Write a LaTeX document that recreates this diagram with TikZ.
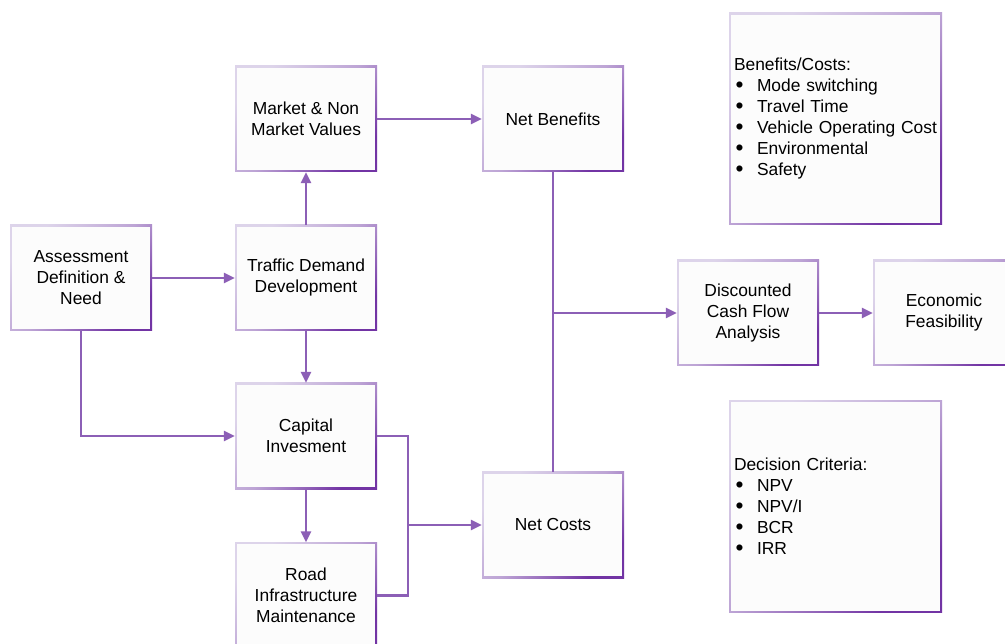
\documentclass[tikz,border=0pt]{standalone}
\usepackage{fontspec}
\setmainfont{Liberation Sans}
\usetikzlibrary{arrows.meta}
\definecolor{bordlight}{HTML}{DDD4EA}
\definecolor{borddark}{HTML}{7234A4}
\definecolor{boxfill}{HTML}{FCFCFC}
\definecolor{conn}{HTML}{8C5FB6}
\tikzset{
  box/.style={rectangle, minimum width=142pt, minimum height=106pt, inner sep=0pt,
    align=center, font=\fontsize{17.4}{21}\selectfont,
    path picture={
      \shade[top color=bordlight, bottom color=borddark, middle color=bordlight!70!borddark, shading angle=45]
        (path picture bounding box.south west) rectangle (path picture bounding box.north east);
      \fill[boxfill] ([shift={(1.6pt,1.6pt)}]path picture bounding box.south west)
        rectangle ([shift={(-1.6pt,-1.6pt)}]path picture bounding box.north east);
    }},
  bigbox/.style={box, minimum width=213pt, minimum height=212pt, text width=203pt,
    inner xsep=5pt, align=left},
  conline/.style={draw=conn, line width=2.8pt},
  arr/.style={conline, -{Triangle[length=11pt,width=10pt]}},
}
\newcommand{\bitem}[1]{\makebox[23pt][l]{\hspace{1.5pt}\smash{\raisebox{-0.5pt}{\scalebox{1.3}{\textbullet}}}}#1}
\begin{document}
\begin{tikzpicture}[x=1pt,y=-1pt]
\fill[white] (0,0) rectangle (1005,644);
\clip (0,0) rectangle (1005,644);
\node[box] (ass) at (81,278) {Assessment\\Definition \&\\Need};
\node[box] (tdd) at (306,278) {Traffic Demand\\Development};
\node[box] (mkt) at (306,119) {Market \& Non\\Market Values};
\node[box] (nb) at (553,119) {Net Benefits};
\node[box] (cap) at (306,436) {Capital\\Invesment};
\node[box] (road) at (306,595.5) {Road\\Infrastructure\\Maintenance};
\node[box] (nc) at (553,525) {Net Costs};
\node[box] (dcf) at (748,313) {Discounted\\Cash Flow\\Analysis};
\node[box] (eco) at (944,313) {Economic\\Feasibility};
\node[bigbox] (bc) at (835.5,119) {Benefits/Costs:\\\bitem{Mode switching}\\\bitem{Travel Time}\\\bitem{Vehicle Operating Cost}\\\bitem{Environmental}\\\bitem{Safety}};
\node[bigbox] (dc) at (835.5,506.5) {Decision Criteria:\\\bitem{NPV}\\\bitem{NPV/I}\\\bitem{BCR}\\\bitem{IRR}};

\draw[arr] (ass.east) -- (tdd.west);
\draw[arr] (ass.south) |- (cap.west);
\draw[arr] (tdd.north) -- (mkt.south);
\draw[arr] (tdd.south) -- (cap.north);
\draw[arr] (cap.south) -- (road.north);
\draw[arr] (mkt.east) -- (nb.west);
\draw[conline] (nb.south) -- (nc.north);
\draw[arr] (nb.south |- dcf.west) -- (dcf.west);
\draw[arr] (dcf.east) -- (eco.west);
\coordinate (bus) at (408,0);
\draw[conline] (cap.east) -| (bus |- road.east) -- (road.east);
\draw[arr] (bus |- nc.west) -- (nc.west);
\end{tikzpicture}
\end{document}
